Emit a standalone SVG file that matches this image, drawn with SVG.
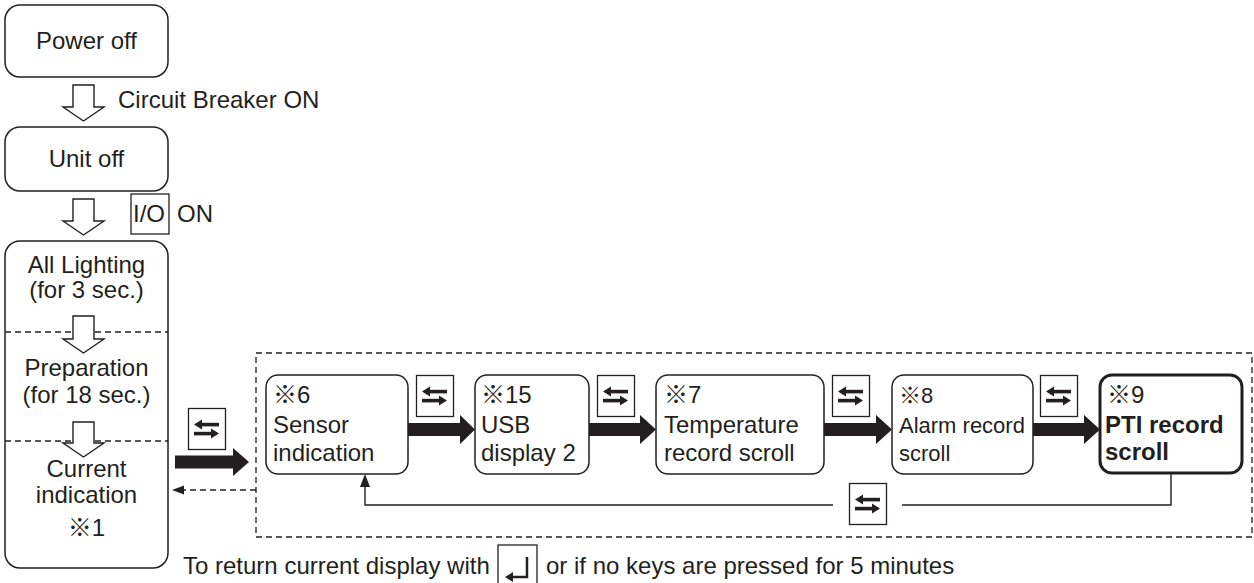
<svg xmlns="http://www.w3.org/2000/svg" xmlns:xlink="http://www.w3.org/1999/xlink" width="1254" height="583" viewBox="0 0 1254 583">
<style>
  text { font-family: "Liberation Sans", Arial, "Noto Sans CJK JP", sans-serif; fill: #231f20; font-size: 24px; }
  .c { text-anchor: middle; }
  .box { fill: #fff; stroke: #231f20; stroke-width: 1.5; }
  .bold { fill: #fff; stroke: #231f20; stroke-width: 3; }
  .hollow { fill: #fff; stroke: #231f20; stroke-width: 1.4; stroke-linejoin: miter; }
  .dash { fill: none; stroke: #231f20; stroke-width: 1.3; stroke-dasharray: 6 4; }
  .line { fill: none; stroke: #231f20; stroke-width: 1.4; }
  .key { fill: #fff; stroke: #231f20; stroke-width: 1.3; }
  .ink { fill: #231f20; }
  .b { font-weight: bold; font-size: 24px; }
  .s { font-size: 22px; }
</style>
<defs>
  <g id="swap">
    <rect class="key" x="0.5" y="0.5" width="37" height="41"/>
    <polygon class="ink" points="6,16.5 14,11.5 14,21.5"/>
    <rect class="ink" x="13" y="14.8" width="18" height="3.6"/>
    <polygon class="ink" points="31,25.5 23,20.5 23,30.5"/>
    <rect class="ink" x="6" y="23.8" width="18" height="3.6"/>
  </g>
</defs>

<!-- dashed container -->
<rect class="dash" x="256" y="353" width="996" height="184"/>

<!-- left column nodes -->
<g id="power-off">
  <rect class="box" x="5" y="5" width="163" height="72" rx="15"/>
  <text class="c" x="86.5" y="49">Power off</text>
</g>
<g id="unit-off">
  <rect class="box" x="5" y="127" width="163" height="64" rx="15"/>
  <text class="c" x="86.5" y="167">Unit off</text>
</g>
<g id="startup">
  <rect class="box" x="5" y="241" width="163" height="327" rx="15"/>
  <line class="dash" x1="5" y1="332" x2="168" y2="332"/>
  <line class="dash" x1="5" y1="441" x2="168" y2="441"/>
  <text class="c" x="86.5" y="273">All Lighting</text>
  <text class="c" x="86.5" y="298">(for 3 sec.)</text>
  <text class="c" x="86.5" y="376">Preparation</text>
  <text class="c" x="86.5" y="403">(for 18 sec.)</text>
  <text class="c" x="86.5" y="477">Current</text>
  <text class="c" x="86.5" y="503">indication</text>
  <text class="c" x="86.5" y="536">※1</text>
</g>

<!-- row nodes -->
<g id="sensor">
  <rect class="box" x="266" y="375" width="142" height="99" rx="12"/>
  <text x="273" y="403">※6</text>
  <text x="273" y="433">Sensor</text>
  <text x="273" y="461">indication</text>
</g>
<g id="usb">
  <rect class="box" x="475" y="375" width="114" height="99" rx="12"/>
  <text x="481" y="403">※15</text>
  <text x="481" y="433">USB</text>
  <text x="481" y="461">display 2</text>
</g>
<g id="temperature">
  <rect class="box" x="656" y="375" width="168" height="99" rx="12"/>
  <text x="664" y="403">※7</text>
  <text x="664" y="433">Temperature</text>
  <text x="664" y="461">record scroll</text>
</g>
<g id="alarm">
  <rect class="box" x="892" y="375" width="141" height="99" rx="12"/>
  <text class="s" x="899" y="403">※8</text>
  <text class="s" x="899" y="433">Alarm record</text>
  <text class="s" x="899" y="461">scroll</text>
</g>
<g id="pti">
  <rect class="bold" x="1100" y="375" width="142" height="98" rx="12"/>
  <text x="1107" y="403">※9</text>
  <text class="b" x="1105" y="433">PTI record</text>
  <text class="b" x="1105" y="460">scroll</text>
</g>

<!-- connectors -->
<g id="connectors">
  <polygon class="hollow" points="73,85 94,85 94,107 104,107 83.5,121 63,107 73,107"/>
  <polygon class="hollow" points="73,199 94,199 94,221 104,221 83.5,235 63,221 73,221"/>
  <polygon class="hollow" points="73,316 94,316 94,339 104,339 83.5,353 63,339 73,339"/>
  <polygon class="hollow" points="73,422 94,422 94,443 104,443 83.5,457 63,443 73,443"/>
  <text x="118" y="108">Circuit Breaker ON</text>
  <rect class="key" x="131" y="194" width="38" height="40"/>
  <text x="133" y="222">I/O</text>
  <text x="177" y="222">ON</text>

  <use xlink:href="#swap" x="188" y="408"/>
  <polygon class="ink" points="175,455.5 233,455.5 233,448 249,462 233,476 233,468.5 175,468.5"/>
  <line class="dash" x1="256" y1="490" x2="182" y2="490"/>
  <polygon class="ink" points="172,490 184,485.5 184,494.5"/>

  <polygon class="ink" points="408,423 460,423 460,415 475,429.5 460,444 460,436 408,436"/>
  <use xlink:href="#swap" x="416" y="375"/>
  <polygon class="ink" points="589,423 640,423 640,415 656,429.5 640,444 640,436 589,436"/>
  <use xlink:href="#swap" x="597" y="375"/>
  <polygon class="ink" points="824,423 876,423 876,415 892,429.5 876,444 876,436 824,436"/>
  <use xlink:href="#swap" x="832" y="375"/>
  <polygon class="ink" points="1033,423 1084,423 1084,415 1100,429.5 1084,444 1084,436 1033,436"/>
  <use xlink:href="#swap" x="1040" y="375"/>

  <polyline class="line" points="1171,473 1171,505 902,505"/>
  <polyline class="line" points="833,505 365,505 365,486"/>
  <polygon class="ink" points="365,474 360,487 370,487"/>
  <use xlink:href="#swap" x="849" y="483"/>
</g>

<!-- bottom note -->
<text x="183" y="574">To return current display with</text>
<rect class="key" x="498" y="545" width="39" height="40"/>
<polyline class="line" points="527,557 527,577 512,577" style="stroke-width:2.5"/>
<polygon class="ink" points="505,577 513,572 513,582"/>
<text x="546" y="574">or if no keys are pressed for 5 minutes</text>
</svg>
